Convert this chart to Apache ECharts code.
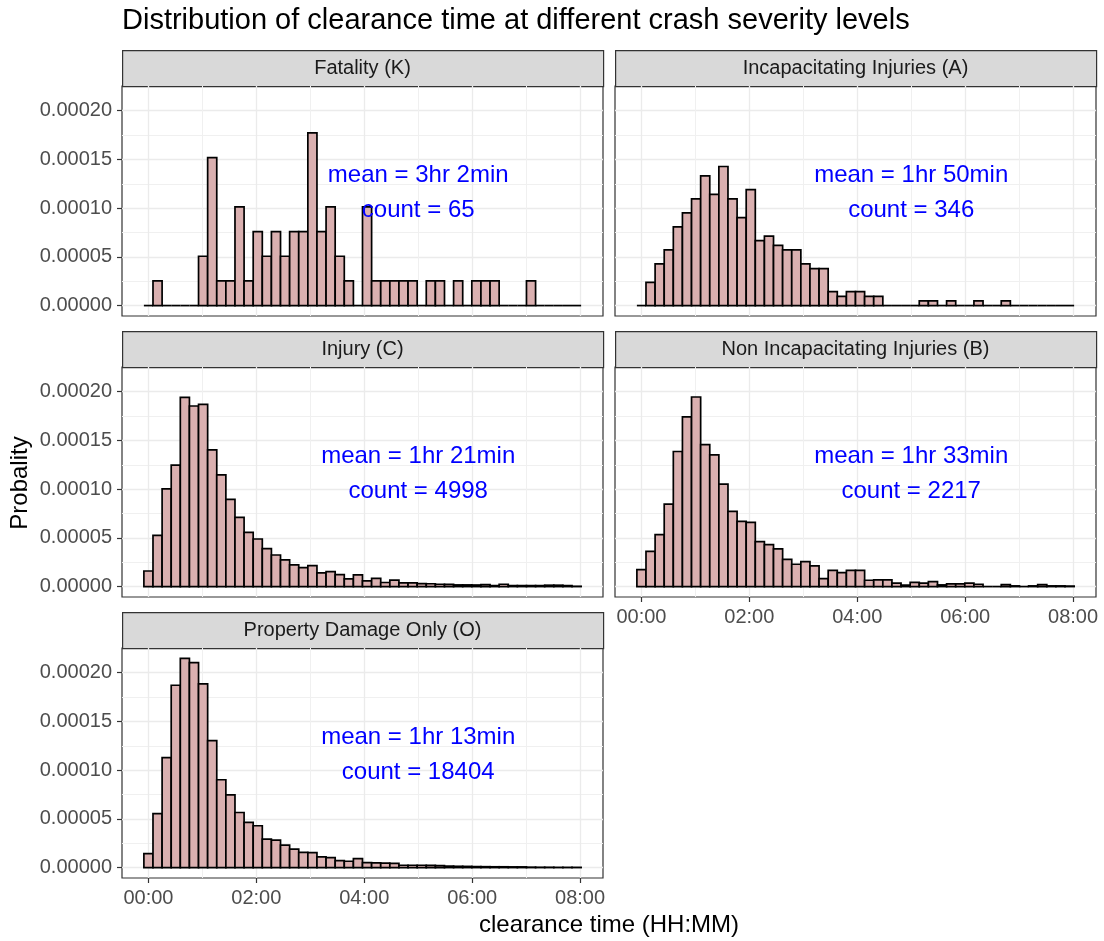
<!DOCTYPE html>
<html>
<head>
<meta charset="utf-8">
<script src="https://cdn.jsdelivr.net/npm/echarts@6/dist/echarts.min.js"></script>
<style>
  html, body { margin: 0; padding: 0; background: #ffffff; }
  #chart { width: 1104px; height: 941px; }
</style>
</head>
<body>
<div id="chart"></div>
<script>
// Facet titles, annotation text and totals
const panelNames = ['Fatality (K)', 'Incapacitating Injuries (A)', 'Injury (C)',
  'Non Incapacitating Injuries (B)', 'Property Damage Only (O)'];
const meanLabels = ['3hr 2min', '1hr 50min', '1hr 21min', '1hr 33min', '1hr 13min'];
const counts = [65, 346, 4998, 2217, 18404];

// Histogram bins (minutes): centre of each bin and common width
const binWidthMin = 10.13;
const binCentersMin = [0, 10.13, 20.26, 30.39, 40.52, 50.65, 60.78, 70.91, 81.04, 91.17,
  101.3, 111.43, 121.56, 131.69, 141.82, 151.95, 162.08, 172.21, 182.34, 192.47,
  202.6, 212.73, 222.86, 232.99, 243.12, 253.25, 263.38, 273.51, 283.64, 293.77,
  303.9, 314.03, 324.16, 334.29, 344.42, 354.55, 364.68, 374.81, 384.94, 395.07,
  405.2, 415.33, 425.46, 435.59, 445.72, 455.85, 465.98, 476.11];

// Density per bin for each severity level
const fatality = [0, 2.53e-5, 0, 0, 0, 0, 5.06e-5, 1.519e-4, 2.53e-5, 2.53e-5,
  1.012e-4, 2.53e-5, 7.59e-5, 5.06e-5, 7.59e-5, 5.06e-5, 7.59e-5, 7.59e-5, 1.772e-4, 7.59e-5,
  1.012e-4, 5.06e-5, 2.53e-5, 0, 1.012e-4, 2.53e-5, 2.53e-5, 2.53e-5, 2.53e-5, 2.53e-5,
  0, 2.53e-5, 2.53e-5, 0, 2.53e-5, 0, 2.53e-5, 2.53e-5, 2.53e-5, 0,
  0, 0, 2.53e-5, 0, 0, 0, 0, 0];
const incapacitating = [0, 2.38e-5, 4.28e-5, 5.71e-5, 8.08e-5, 9.51e-5, 1.094e-4, 1.331e-4, 1.141e-4, 1.427e-4,
  1.094e-4, 9.03e-5, 1.189e-4, 6.66e-5, 7.13e-5, 6.18e-5, 5.71e-5, 5.71e-5, 4.28e-5, 3.80e-5,
  3.80e-5, 1.43e-5, 9.5e-6, 1.43e-5, 1.43e-5, 9.5e-6, 9.5e-6, 0, 0, 0,
  0, 4.8e-6, 4.8e-6, 0, 4.8e-6, 0, 0, 4.8e-6, 0, 0,
  4.8e-6, 0, 0, 0, 0, 0, 0, 0];
const injury = [1.60e-5, 5.26e-5, 1.003e-4, 1.246e-4, 1.942e-4, 1.853e-4, 1.870e-4, 1.403e-4, 1.147e-4, 8.94e-5,
  7.10e-5, 5.56e-5, 4.88e-5, 3.89e-5, 3.24e-5, 2.73e-5, 2.22e-5, 1.95e-5, 2.15e-5, 1.40e-5,
  1.54e-5, 1.23e-5, 7.9e-6, 1.19e-5, 5.8e-6, 8.5e-6, 4.2e-6, 6.6e-6, 3.8e-6, 3.8e-6,
  3.0e-6, 2.9e-6, 2.4e-6, 2.3e-6, 1.7e-6, 1.7e-6, 1.6e-6, 2.0e-6, 1.0e-6, 2.4e-6,
  1.0e-6, 1.0e-6, 1.0e-6, 1.0e-6, 1.4e-6, 1.4e-6, 1.0e-6, 3e-7];
const nonIncapacitating = [1.74e-5, 3.62e-5, 5.32e-5, 8.46e-5, 1.386e-4, 1.741e-4, 1.945e-4, 1.457e-4, 1.352e-4, 1.051e-4,
  7.71e-5, 6.69e-5, 6.59e-5, 4.61e-5, 4.30e-5, 3.86e-5, 2.80e-5, 2.29e-5, 2.56e-5, 2.12e-5,
  8.2e-6, 1.67e-5, 1.43e-5, 1.67e-5, 1.67e-5, 6.5e-6, 6.8e-6, 6.8e-6, 3.6e-6, 1.5e-6,
  4.3e-6, 3.6e-6, 5.0e-6, 1.7e-6, 2.8e-6, 2.8e-6, 3.5e-6, 2.4e-6, 0, 0,
  2.0e-6, 7e-7, 0, 7e-7, 2.0e-6, 7e-7, 7e-7, 5e-7];
const propertyDamage = [1.43e-5, 5.54e-5, 1.129e-4, 1.871e-4, 2.146e-4, 2.102e-4, 1.884e-4, 1.303e-4, 9.01e-5, 7.45e-5,
  5.65e-5, 4.63e-5, 4.29e-5, 2.92e-5, 2.82e-5, 2.31e-5, 1.90e-5, 1.56e-5, 1.53e-5, 1.09e-5,
  1.02e-5, 7.1e-6, 6.5e-6, 9.2e-6, 5.1e-6, 4.8e-6, 4.6e-6, 4.3e-6, 2.4e-6, 2.4e-6,
  2.4e-6, 2.2e-6, 2.0e-6, 1.5e-6, 1.3e-6, 1.2e-6, 1.0e-6, 9e-7, 8e-7, 8e-7,
  7e-7, 7e-7, 4e-7, 3e-7, 3e-7, 2e-7, 2e-7, 2e-7];

// Axis breaks and their labels
const xTickValues = [0, 120, 240, 360, 480];
const xTickLabels = ['00:00', '02:00', '04:00', '06:00', '08:00'];
const xMinorValues = [60, 180, 300, 420];
const yTickValues = [0, 0.00005, 0.0001, 0.00015, 0.0002];
const yTickLabels = ['0.00000', '0.00005', '0.00010', '0.00015', '0.00020'];
const yMinorValues = [0.000025, 0.000075, 0.000125, 0.000175];

// Annotation anchor (minutes, density)
const noteX = 300;
const noteY = 0.000116;

const seriesValues = [fatality, incapacitating, injury, nonIncapacitating, propertyDamage];

// Shared scale limits (data range plus 5% padding)
const X_MIN = -29.4, X_MAX = 505.5;
const Y_MIN = -0.0000107, Y_MAX = 0.0002253;

const FONT = '"Liberation Sans", Arial, sans-serif';
const STRIP_H = 36;
const colLeft = [122, 615];
const rowTop = [86, 367, 648];
const PANEL_W = 481, PANEL_H = 230;
const panelPos = [
  { col: 0, row: 0, xLabels: false, yLabels: true },
  { col: 1, row: 0, xLabels: false, yLabels: false },
  { col: 0, row: 1, xLabels: false, yLabels: true },
  { col: 1, row: 1, xLabels: true, yLabels: false },
  { col: 0, row: 2, xLabels: true, yLabels: true }
];

const grids = [], xAxes = [], yAxes = [], series = [], graphics = [];

panelPos.forEach((p, i) => {
  const left = colLeft[p.col], top = rowTop[p.row];
  grids.push({
    left: left, top: top, width: PANEL_W, height: PANEL_H,
    show: true, borderColor: '#333333', borderWidth: 1.2, backgroundColor: '#ffffff'
  });

  // major axes (grid lines, ticks, labels)
  xAxes.push({
    type: 'value', gridIndex: i, min: X_MIN, max: X_MAX,
    axisLine: { show: false, onZero: false },
    axisTick: { show: p.xLabels, length: 5, lineStyle: { color: '#333333', width: 1.2 },
      customValues: xTickValues },
    axisLabel: { show: p.xLabels, customValues: xTickValues, margin: 10,
      color: '#4d4d4d', fontSize: 20, fontFamily: FONT,
      formatter: v => xTickLabels[xTickValues.indexOf(v)] || '' },
    splitLine: { show: true, lineStyle: { color: '#ebebeb', width: 1.3 } }
  });
  yAxes.push({
    type: 'value', gridIndex: i, min: Y_MIN, max: Y_MAX,
    axisLine: { show: false, onZero: false },
    axisTick: { show: p.yLabels, length: 5, lineStyle: { color: '#333333', width: 1.2 },
      customValues: yTickValues },
    axisLabel: { show: p.yLabels, customValues: yTickValues, margin: 10,
      color: '#4d4d4d', fontSize: 20, fontFamily: FONT,
      formatter: v => yTickLabels[yTickValues.indexOf(v)] || '' },
    splitLine: { show: true, lineStyle: { color: '#ebebeb', width: 1.3 } }
  });
  // minor grid lines
  xAxes.push({
    type: 'value', gridIndex: i, min: X_MIN, max: X_MAX,
    axisLine: { show: false, onZero: false },
    axisTick: { show: false, customValues: xMinorValues },
    axisLabel: { show: false, customValues: xMinorValues },
    splitLine: { show: true, lineStyle: { color: '#f0f0f0', width: 1 } }
  });
  yAxes.push({
    type: 'value', gridIndex: i, min: Y_MIN, max: Y_MAX,
    axisLine: { show: false, onZero: false },
    axisTick: { show: false, customValues: yMinorValues },
    axisLabel: { show: false, customValues: yMinorValues },
    splitLine: { show: true, lineStyle: { color: '#f0f0f0', width: 1 } }
  });

  // histogram bars
  series.push({
    type: 'custom', xAxisIndex: 2 * i, yAxisIndex: 2 * i, z: 3,
    data: binCentersMin.map((c, k) => [c, seriesValues[i][k]]),
    renderItem: (params, api) => {
      const c = api.value(0), v = api.value(1);
      const a = api.coord([c - binWidthMin / 2, v]);
      const b = api.coord([c + binWidthMin / 2, 0]);
      if (v > 0) {
        return { type: 'rect',
          shape: { x: a[0], y: a[1], width: b[0] - a[0], height: b[1] - a[1] },
          style: { fill: '#dab0b0', stroke: '#000000', lineWidth: 1.7 } };
      }
      return { type: 'line', shape: { x1: a[0], y1: b[1], x2: b[0], y2: b[1] },
        style: { stroke: '#000000', lineWidth: 1.7 } };
    }
  });

  // mean / count annotation
  series.push({
    type: 'custom', xAxisIndex: 2 * i, yAxisIndex: 2 * i, z: 5,
    data: [[noteX, noteY]],
    renderItem: (params, api) => {
      const pt = api.coord([api.value(0), api.value(1)]);
      return { type: 'text', x: pt[0], y: pt[1],
        style: { text: 'mean = ' + meanLabels[i] + '\ncount = ' + counts[i],
          fill: '#0000ff', fontSize: 24, fontFamily: FONT, lineHeight: 35,
          align: 'center', verticalAlign: 'middle' } };
    }
  });

  // facet strip
  graphics.push({ type: 'rect', left: left, top: top - STRIP_H,
    shape: { width: PANEL_W, height: STRIP_H },
    style: { fill: '#d9d9d9', stroke: '#333333', lineWidth: 1.2 } });
  graphics.push({ type: 'text', x: left + PANEL_W / 2, y: top - STRIP_H / 2,
    style: { text: panelNames[i], fill: '#1a1a1a', fontSize: 20, fontFamily: FONT,
      align: 'center', verticalAlign: 'middle' } });
});

// plot title and axis titles
graphics.push({ type: 'text', x: 122, y: 21,
  style: { text: 'Distribution of clearance time at different crash severity levels',
    fill: '#000000', fontSize: 29, fontFamily: FONT, align: 'left', verticalAlign: 'middle' } });
graphics.push({ type: 'text', x: 609, y: 925,
  style: { text: 'clearance time (HH:MM)', fill: '#000000', fontSize: 24, fontFamily: FONT,
    align: 'center', verticalAlign: 'middle' } });
graphics.push({ type: 'text', x: 20, y: 483, rotation: Math.PI / 2,
  style: { text: 'Probality', fill: '#000000', fontSize: 24, fontFamily: FONT,
    align: 'center', verticalAlign: 'middle' } });

const chart = echarts.init(document.getElementById('chart'));
chart.setOption({
  animation: false,
  backgroundColor: '#ffffff',
  grid: grids,
  xAxis: xAxes,
  yAxis: yAxes,
  series: series,
  graphic: graphics
});
</script>
</body>
</html>
